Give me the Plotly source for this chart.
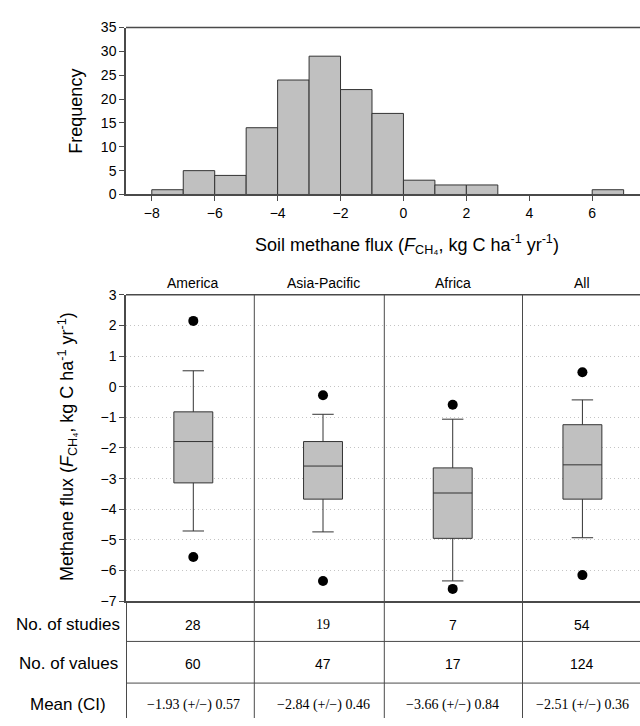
import plotly.graph_objects as go

W, H = 640, 726


def py(p):
    return 1 - p / H


def px(p):
    return p / W


# ---------------- data ----------------
bin_start = [-8, -7, -6, -5, -4, -3, -2, -1, 0, 1, 2, 6]
freq = [1, 5, 4, 14, 24, 29, 22, 17, 3, 2, 2, 1]
hist_ticks = [-8, -6, -4, -2, 0, 2, 4, 6]

regions = ["America", "Asia-Pacific", "Africa", "All"]
q1 = [-3.14, -3.67, -4.95, -3.67]
median = [-1.79, -2.59, -3.47, -2.55]
q3 = [-0.82, -1.79, -2.65, -1.24]
whisk_lo = [-4.71, -4.74, -6.34, -4.93]
whisk_hi = [0.52, -0.90, -1.06, -0.43]
out_hi = [2.15, -0.28, -0.59, 0.47]
out_lo = [-5.56, -6.34, -6.60, -6.15]

row_labels = ["No. of studies", "No. of values", "Mean (CI)"]
n_studies = ["28", "19", "7", "54"]
n_values = ["60", "47", "17", "124"]
mean_ci = ["−1.93 (+/−) 0.57", "−2.84 (+/−) 0.46", "−3.66 (+/−) 0.84", "−2.51 (+/−) 0.36"]

# ---------------- style ----------------
FILL = "#c0c0c0"
EDGE = "#333333"
AX = "#4a4a4a"
SANS = "Liberation Sans, Arial, sans-serif"
SERIF = "Liberation Serif, Times New Roman, serif"

L = 126            # left edge of plot areas (px)
H_TOP, H_BOT = 20, 190.7
B_TOP, B_BOT = 293.3, 606.5

pos = list(range(len(regions)))

fig = go.Figure()

fig.add_trace(go.Bar(
    x=[b + 0.5 for b in bin_start], y=freq, width=1,
    marker=dict(color=FILL, line=dict(color=EDGE, width=1)),
    xaxis="x", yaxis="y", showlegend=False, hoverinfo="skip"))

fig.add_trace(go.Box(
    x=pos, q1=q1, median=median, q3=q3,
    lowerfence=whisk_lo, upperfence=whisk_hi,
    width=0.3, whiskerwidth=0.55, boxpoints=False,
    fillcolor=FILL, line=dict(color=EDGE, width=1),
    xaxis="x2", yaxis="y2", showlegend=False))

fig.add_trace(go.Scatter(
    x=pos + pos, y=out_hi + out_lo, mode="markers",
    marker=dict(color="black", size=10),
    xaxis="x2", yaxis="y2", showlegend=False))

tick_font = dict(family=SANS, size=14, color="black")

fig.update_layout(
    width=W, height=H, margin=dict(l=0, r=0, t=0, b=0),
    paper_bgcolor="white", plot_bgcolor="white",
    xaxis=dict(domain=[px(L), 1], range=[-8.82, 7.52], tickvals=hist_ticks,
               ticks="outside", ticklen=5, tickcolor=AX, showline=True,
               linecolor=AX, linewidth=1.5, showgrid=False, zeroline=False,
               tickfont=tick_font, anchor="y"),
    yaxis=dict(domain=[py(H_BOT), py(H_TOP)], range=[0, 35], dtick=5,
               ticks="outside", ticklen=5, tickcolor=AX, showline=True,
               linecolor=AX, linewidth=1.5, showgrid=False, zeroline=False,
               tickfont=tick_font, anchor="x"),
    xaxis2=dict(domain=[px(L), 1], range=[-0.519, 3.444], showticklabels=False,
                ticks="", showline=True, linecolor=AX, linewidth=1.5,
                showgrid=False, zeroline=False, anchor="y2"),
    yaxis2=dict(domain=[py(B_BOT), py(B_TOP)], range=[-7, 3], dtick=1,
                ticks="outside", ticklen=5, tickcolor=AX, showline=True,
                linecolor=AX, linewidth=1.5, showgrid=True, gridcolor="#c4c4c4",
                griddash="1px,3px", gridwidth=1, zeroline=False,
                tickfont=tick_font, anchor="x2"),
)

shapes = []
# top frame lines
shapes.append(dict(type="line", xref="paper", yref="paper", x0=px(L), x1=1,
                   y0=py(H_TOP), y1=py(H_TOP), line=dict(color=AX, width=1.5)))
shapes.append(dict(type="line", xref="paper", yref="paper", x0=px(L), x1=1,
                   y0=py(B_TOP), y1=py(B_TOP), line=dict(color=AX, width=1.5)))
# panel dividers (through box plot and table)
for xd in [254.3, 384.3, 522.5]:
    shapes.append(dict(type="line", xref="paper", yref="paper", x0=px(xd), x1=px(xd),
                       y0=0, y1=py(B_TOP), line=dict(color=AX, width=1)))
# table left line
shapes.append(dict(type="line", xref="paper", yref="paper", x0=px(L + 0.5), x1=px(L + 0.5),
                   y0=0, y1=py(B_BOT), line=dict(color=AX, width=1)))
# table row lines
for yr in [647.7, 690.3]:
    shapes.append(dict(type="line", xref="paper", yref="paper", x0=px(L), x1=1,
                       y0=py(yr), y1=py(yr), line=dict(color=AX, width=1)))
fig.update_layout(shapes=shapes)

ann = []
# axis titles
ann.append(dict(text="Frequency", xref="paper", yref="paper", x=px(76), y=py(106),
                textangle=-90, showarrow=False, font=dict(family=SANS, size=18, color="black"),
                xanchor="center", yanchor="middle"))
ann.append(dict(text="Soil methane flux (<i>F</i><sub>CH₄</sub>, kg C ha<sup>-1</sup> yr<sup>-1</sup>)",
                xref="paper", yref="paper", x=px(407), y=py(242), showarrow=False,
                font=dict(family=SANS, size=18, color="black"), xanchor="center", yanchor="middle"))
ann.append(dict(text="Methane flux (<i>F</i><sub>CH₄</sub>, kg C ha<sup>-1</sup> yr<sup>-1</sup>)",
                xref="paper", yref="paper", x=px(67), y=py(449),
                textangle=-90, showarrow=False, font=dict(family=SANS, size=18, color="black"),
                xanchor="center", yanchor="middle"))
# region labels
for i, r in enumerate(regions):
    ann.append(dict(text=r, xref="x2", yref="paper", x=pos[i], y=py(281), showarrow=False,
                    font=dict(family=SANS, size=14, color="black"), xanchor="center", yanchor="middle"))
# table
row_y = [630.7, 670.5, 712.7]
for j, lab in enumerate(row_labels):
    ann.append(dict(text=lab, xref="paper", yref="paper", x=px(68), y=py(row_y[j]), showarrow=False,
                    font=dict(family=SANS, size=17, color="black"), xanchor="center", yanchor="middle"))
for i in range(len(regions)):
    ann.append(dict(text=n_studies[i], xref="x2", yref="paper", x=pos[i], y=py(row_y[0]), showarrow=False,
                    font=dict(family=SERIF if n_studies[i] == "19" else SANS, size=14, color="black"),
                    xanchor="center", yanchor="middle"))
    ann.append(dict(text=n_values[i], xref="x2", yref="paper", x=pos[i], y=py(row_y[1]), showarrow=False,
                    font=dict(family=SANS, size=14, color="black"), xanchor="center", yanchor="middle"))
    ann.append(dict(text=mean_ci[i], xref="x2", yref="paper", x=pos[i], y=py(row_y[2]), showarrow=False,
                    font=dict(family=SERIF, size=14, color="black"), xanchor="center", yanchor="middle"))
fig.update_layout(annotations=ann)

fig.write_html("out.html")
